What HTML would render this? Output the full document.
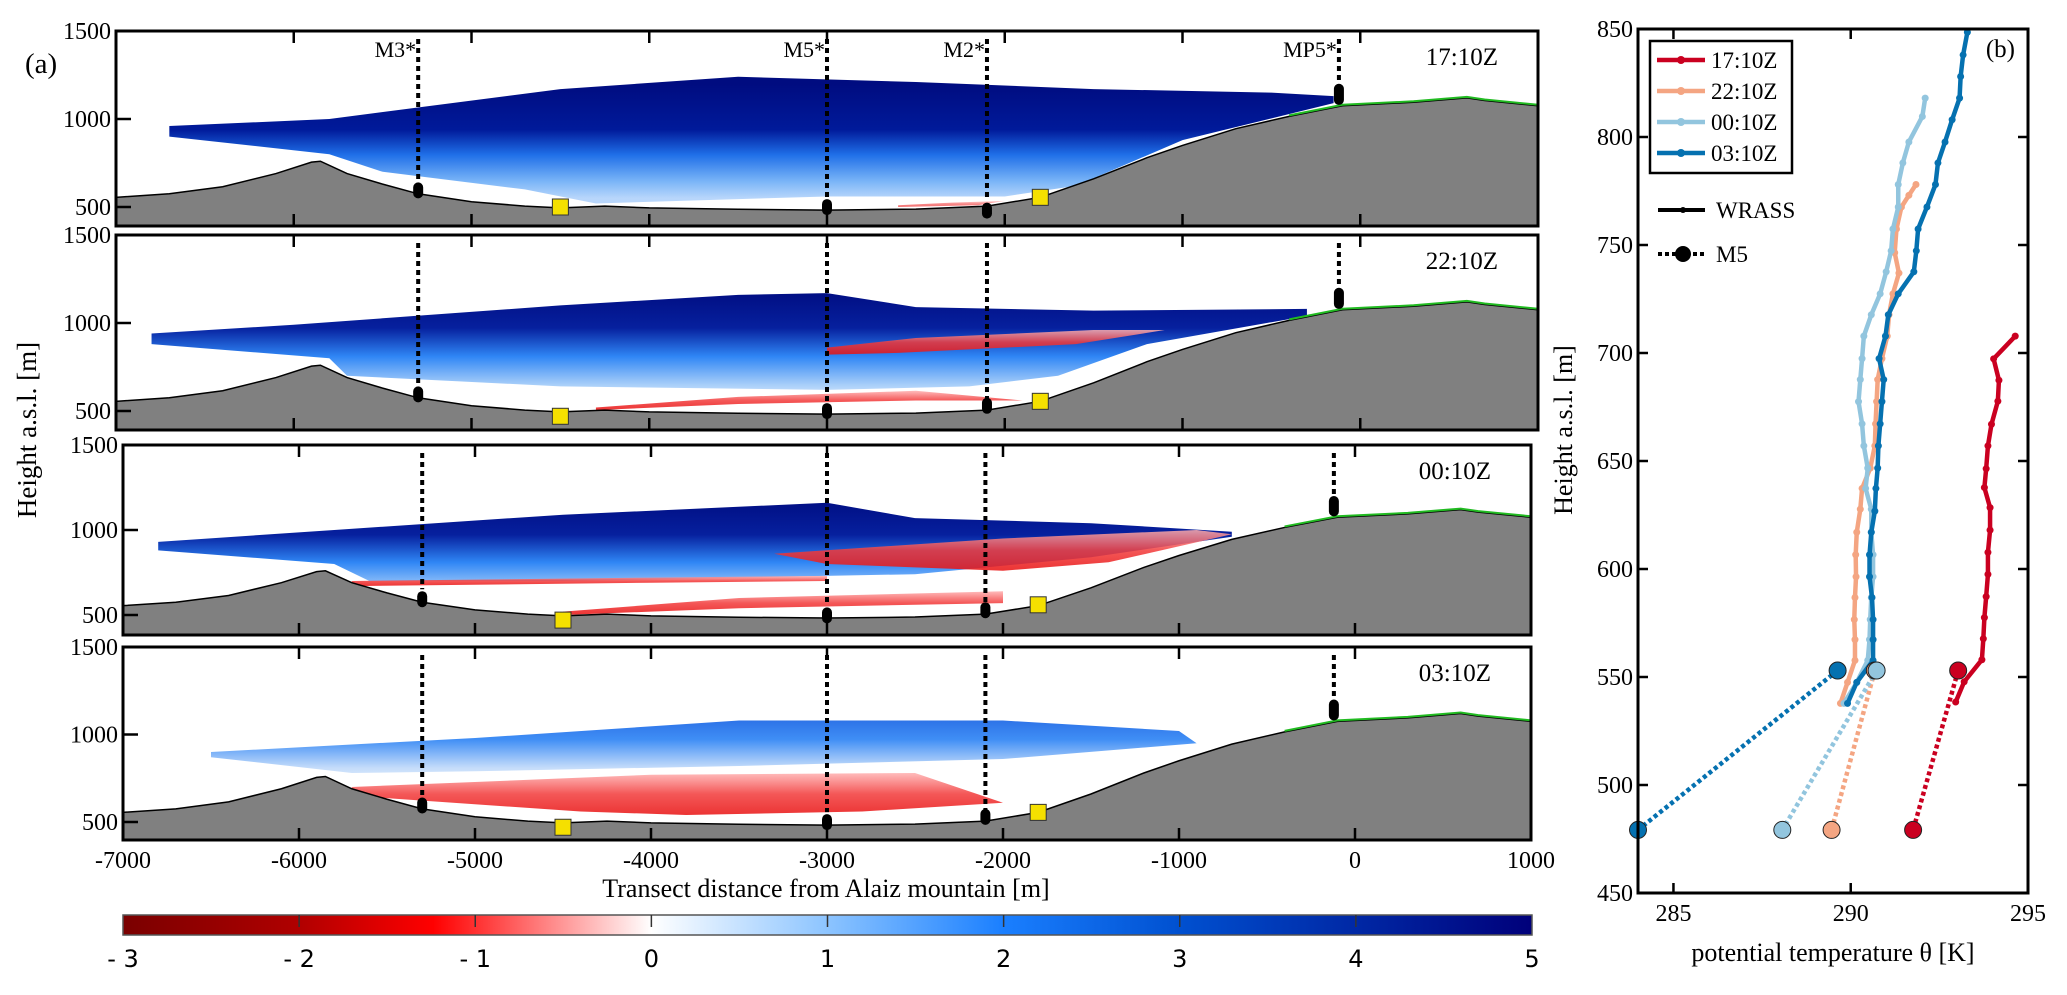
<!DOCTYPE html>
<html><head><meta charset="utf-8"><style>
html,body{margin:0;padding:0;background:#fff;}
svg{display:block;font-family:"Liberation Serif",serif;}
</style></head><body>
<svg id="fig" width="2067" height="995" viewBox="0 0 2067 995" xmlns="http://www.w3.org/2000/svg">
<defs>
  <linearGradient id="cbar" x1="0" x2="1" y1="0" y2="0">
    <stop offset="0" stop-color="#7a0000"/>
    <stop offset="0.125" stop-color="#b00000"/>
    <stop offset="0.22" stop-color="#ff0000"/>
    <stop offset="0.25" stop-color="#ff3030"/>
    <stop offset="0.375" stop-color="#ffffff"/>
    <stop offset="0.5" stop-color="#8cc4ff"/>
    <stop offset="0.625" stop-color="#1a7fff"/>
    <stop offset="0.75" stop-color="#0050d0"/>
    <stop offset="1" stop-color="#00007a"/>
  </linearGradient>
</defs>
<g id="left"></g>
<g id="right"></g>
</svg>
<script>
// ---------- data: left panels ----------
const panelTimes = ["17:10Z","22:10Z","00:10Z","03:10Z"];
const xTicks = [-7000,-6000,-5000,-4000,-3000,-2000,-1000,0,1000];
const yTicksLeft = [500,1000,1500];
const terrainX = [-7000,-6700,-6400,-6100,-5900,-5850,-5700,-5500,-5300,-5000,-4700,-4500,-4250,-4000,-3500,-3000,-2500,-2100,-1800,-1500,-1200,-1000,-700,-400,-100,300,600,700,1000];
const terrainH = [555,575,615,690,755,760,690,630,575,530,505,495,505,495,487,482,488,505,555,660,780,850,945,1015,1075,1095,1120,1105,1075];
const siteNames = ["M3*","M5*","M2*","MP5*"];
const siteX = [-5300,-3000,-2100,-120];
const siteLow = [[560,640],[470,545],[490,525],[1080,1200]];
const boxX = [-4500,-1800];
const boxH = [[500,540],[470,470],[470,470],[470,470]];
const boxH2 = [[555,555],[555,555],[560,560],[555,555]];
const cbTicks = [-3,-2,-1,0,1,2,3,4,5];
// radar field polygons per panel [x...],[h...]
const blueX = [
 [-6700,-5800,-4500,-3500,-2500,-1500,-500,-150,-150,-1000,-1600,-2000,-3000,-4300,-4700,-5500,-5800,-6700],
 [-6800,-6000,-4500,-3500,-3000,-2500,-1500,-300,-300,-1200,-1700,-2200,-3000,-4500,-5700,-5800,-6800],
 [-6800,-5800,-4500,-3000,-2500,-1500,-700,-700,-1500,-2500,-3500,-4500,-5600,-5800,-6800],
 [-6500,-5000,-3500,-2000,-1000,-900,-2000,-3500,-5000,-5700,-6500]];
const blueH = [
 [960,1000,1170,1240,1210,1170,1150,1130,1090,880,620,560,560,520,600,700,800,900],
 [940,990,1100,1160,1170,1090,1070,1080,1040,880,700,640,620,640,700,800,880],
 [930,1000,1090,1160,1070,1040,990,960,840,740,720,700,700,800,880],
 [900,980,1080,1080,1020,950,860,820,790,780,870]];
const redX = [
 [-2600,-2300,-2000,-2150,-2600],
 [-3000,-2500,-1500,-1100,-1600,-2600,-3000, null, -4300,-3500,-2500,-1900,-2500,-3500,-4300],
 [-3300,-2000,-900,-700,-1400,-2000,-3000, null, -4500,-3500,-2000,-2000,-3500,-4500, null, -5700,-4000,-3000,-3000,-4000,-5700],
 [-5700,-4000,-2500,-2000,-2800,-3800,-4400,-5700]];
const redH = [
 [510,525,535,510,500],
 [860,915,960,960,880,830,820, null, 520,580,615,560,560,540,505],
 [860,950,1000,975,810,760,800, null, 520,600,640,570,540,500, null, 700,720,730,700,690,670],
 [700,770,780,610,560,540,560,650]];

// ---------- data: right panel ----------
const seriesNames = ["17:10Z","22:10Z","00:10Z","03:10Z"];
const seriesColors = ["#ca0020","#f4a582","#92c5de","#0571b0"];
const wrassT = [
 [294.64,294.03,294.18,294.15,293.97,293.87,293.82,293.77,293.93,293.93,293.87,293.87,293.82,293.77,293.74,293.70,293.20,292.96],
 [291.84,291.64,291.43,291.29,291.24,291.36,291.19,291.08,291.03,290.88,290.76,290.73,290.70,290.68,290.55,290.32,290.27,290.17,290.14,290.15,290.12,290.10,290.12,290.12,289.91,289.71],
 [292.10,292.02,291.64,291.47,291.34,291.34,291.19,291.14,291.00,290.83,290.58,290.37,290.32,290.27,290.22,290.32,290.37,290.48,290.42,290.58,290.58,290.63,290.63,290.58,290.55,290.53,290.48,290.17,289.81],
 [293.29,293.17,293.10,293.07,292.86,292.66,292.46,292.39,292.15,291.90,291.85,291.78,291.34,291.06,290.98,290.80,290.93,290.88,290.83,290.78,290.76,290.71,290.68,290.58,290.53,290.53,290.60,290.63,290.63,290.63,290.17,289.91]];
const wrassH = [
 [707.8,697.3,687.4,677.7,667.0,657.0,646.4,637.7,628.4,618.0,607.7,597.5,587.2,577.5,567.7,558.0,547.8,538.4],
 [778,773,767.6,757.4,746.4,737,727.4,717.7,707.8,697.4,687.7,677.5,667.2,657,646.7,637.3,627.7,617,606.6,596.4,586.8,576.6,567.3,557.7,547.5,537.8],
 [818,809.5,797.7,788,778,767.6,757.4,747.3,737.6,727.4,717.7,707.8,697.4,687.7,677.5,667.2,657,646.7,637.3,627.7,617,606.6,596.4,586.8,576.6,567.3,557.7,547.5,537.8],
 [848.5,838,828,818,808,797.7,788,778,767.6,757.4,747.3,737.6,727.4,717.7,707.8,697.4,687.7,677.5,667.2,657,646.7,637.3,626.8,617,606.6,596.4,586.8,576.6,567.3,557.7,547.5,537.8]];
const m5T = [[293.03,291.76],[290.68,289.46],[290.73,288.07],[289.63,284.0]];
const m5H = [[553,479.2],[553,479.2],[553,479.2],[553,479.2]];
const rxTicks = [285,290,295];
const ryTicks = [450,500,550,600,650,700,750,800,850];

// ---------- drawing ----------
const NS="http://www.w3.org/2000/svg";
function mk(tag, attrs, parent, text){
  const e=document.createElementNS(NS,tag);
  for(const k in attrs) e.setAttribute(k,attrs[k]);
  if(text!==undefined) e.textContent=text;
  parent.appendChild(e); return e;
}
const L=document.getElementById('left');
const R=document.getElementById('right');
const frames=[{l:116,r:1538,y15:31,y5:207,bot:226},{l:116,r:1538,y15:235,y5:411,bot:430},{l:123,r:1531,y15:445,y5:615,bot:635},{l:123,r:1531,y15:647,y5:822,bot:840}];

frames.forEach((f,pi)=>{
  const top=f.y15;
  const sx=v=>f.l+(v+7000)/8000*(f.r-f.l);
  const sy=h=>f.y5-(h-500)/1000*(f.y5-f.y15);
  const g=mk('g',{},L);
  
  
  const clip=mk('clipPath',{id:'c'+pi},g);
  mk('rect',{x:f.l,y:top,width:f.r-f.l,height:f.bot-top},clip);
  const inner=mk('g',{'clip-path':'url(#c'+pi+')'},g);
  const gid='bg'+pi;
  const lg=mk('linearGradient',{id:gid,x1:0,x2:0,y1:sy(1200),y2:sy(550),gradientUnits:'userSpaceOnUse'},g);
  const stops = pi===0?[["0","#000c80"],["0.4","#001a9a"],["0.62","#1f6fe8"],["0.85","#79b4f7"],["1","#b8d6fb"]]:
                pi===3?[["0","#1a55d8"],["0.35","#3f8ef5"],["0.6","#c4dcfa"],["0.8","#f4f8ff"],["1","#ffffff"]]:
                [["0","#000c80"],["0.35","#06209e"],["0.6","#2f86f5"],["0.85","#a9cff9"],["1","#e8f1ff"]];
  stops.forEach(s=>mk('stop',{offset:s[0],'stop-color':s[1]},lg));
  const rid='rg'+pi;
  const rg=mk('linearGradient',{id:rid,x1:0,x2:0,y1:0,y2:1},g);
  [["0","#ffb0b0"],["0.5","#f23a3a"],["1","#e81010"]].forEach(s=>mk('stop',{offset:s[0],'stop-color':s[1]},rg));
  const bp=blueX[pi].map((x,i)=>sx(x)+','+sy(blueH[pi][i])).join(' ');
  const bf=mk('polygon',{points:bp,fill:'url(#'+gid+')'},inner);
  
  
  let seg=[];
  const flush=()=>{ if(seg.length){ const rf=mk('polygon',{points:seg.join(' '),fill:'url(#'+rid+')','fill-opacity':pi===0?0.6:0.85},inner);
    
     seg=[];} };
  redX[pi].forEach((x,i)=>{ if(x===null){flush();} else seg.push(sx(x)+','+sy(redH[pi][i])); });
  flush();
  let tp=terrainX.map((x,i)=>sx(x)+','+sy(terrainH[i])).join(' ');
  const ter=mk('polygon',{points:sx(-7000)+','+f.bot+' '+tp+' '+sx(1000)+','+f.bot,fill:'#808080',stroke:'#000','stroke-width':1.5},inner);
  
  
  const gp=terrainX.map((x,i)=>x>=-500?sx(x)+','+(sy(terrainH[i])-1):null).filter(Boolean).join(' ');
  mk('polyline',{points:gp,fill:'none',stroke:'#22bb22','stroke-width':2},inner);
  siteX.forEach((x,si)=>{
    const ln=mk('line',{x1:sx(x),x2:sx(x),y1:top+8,y2:sy(siteLow[si][1])-2,stroke:'#000','stroke-width':4,'stroke-dasharray':'5 4'},inner);
    
    
    const lo=siteLow[si][0]+(pi>0&&si===2?20:0), hi=siteLow[si][1]+(pi>0&&si===2?50:0);
    const mkE=mk('rect',{x:sx(x)-5,y:sy(hi),width:10,height:Math.max(16,sy(lo)-sy(hi)),rx:5,fill:'#000'},inner);
    
    
    if(pi===0){
      const t=mk('text',{x:sx(x)-2,y:top+26,'font-size':22,'text-anchor':'end'},g,siteNames[si]);
      
      
    }
  });
  boxX.forEach((x,bi)=>{
    const h=bi===0?boxH[pi][0]:boxH2[pi][0];
    const b=mk('rect',{x:sx(x)-8,y:sy(h)-8,width:16,height:16,fill:'#f5e000',stroke:'#333','stroke-width':1},inner);
    
    
  });
  mk('rect',{x:f.l,y:top,width:f.r-f.l,height:f.bot-top,fill:'none',stroke:'#000','stroke-width':3},g);
  xTicks.forEach(v=>{
    mk('line',{x1:sx(v),x2:sx(v),y1:top,y2:top+12,stroke:'#000','stroke-width':2.5},g);
    mk('line',{x1:sx(v),x2:sx(v),y1:f.bot,y2:f.bot-12,stroke:'#000','stroke-width':2.5},g);
    if(pi===3){
      const t=mk('text',{x:sx(v),y:f.bot+28,'font-size':24,'text-anchor':'middle'},g,String(v));
      
      
    }
  });
  yTicksLeft.forEach(v=>{
    mk('line',{x1:f.l,x2:f.l+15,y1:sy(v),y2:sy(v),stroke:'#000','stroke-width':2.5},g);
    const t=mk('text',{x:f.l-5,y:sy(v)+8,'font-size':24,'text-anchor':'end'},g,String(v));
    
    
  });
  const pt=mk('text',{x:f.r-40,y:top+34,'font-size':25,'text-anchor':'end'},g,panelTimes[pi]);
  
  
});
let t=mk('text',{x:25,y:73,'font-size':29},L,'(a)');
 
t=mk('text',{x:36,y:430,'font-size':27,'text-anchor':'middle',transform:'rotate(-90 36 430)'},L,'Height a.s.l. [m]');
 
t=mk('text',{x:826,y:897,'font-size':26,'text-anchor':'middle'},L,'Transect distance from Alaiz mountain [m]');
 
const cb=mk('g',{},L);
 
const cbx=v=>123+(v+3)/8*(1532-123);
mk('rect',{x:123,y:915,width:1409,height:20,fill:'url(#cbar)',stroke:'#555','stroke-width':1.5},cb);
cbTicks.forEach(v=>{
  if(v>-3&&v<5) mk('line',{x1:cbx(v),x2:cbx(v),y1:915,y2:927,stroke:'#333','stroke-width':1.5},cb);
  const tt=mk('text',{x:cbx(v),y:967,'font-size':24,'text-anchor':'middle','font-family':'DejaVu Sans, sans-serif'},cb,(v<0?'- '+(-v):String(v)));
   
});

const RL=1638,RR=2028,RT=29,RB=893;
const rx=v=>RL+(v-284)/11*(RR-RL);
const ry=h=>RB-(h-450)/400*(RB-RT);
for(let s=0;s<4;s++){
  const d=m5T[s].map((v,i)=>rx(v)+','+ry(m5H[s][i])).join(' ');
  const l=mk('polyline',{points:d,fill:'none',stroke:seriesColors[s],'stroke-width':4.5,'stroke-dasharray':'4 3'},R);
  
  
}
for(let s=0;s<4;s++){
  const d=wrassT[s].map((v,i)=>rx(v)+','+ry(wrassH[s][i])).join(' ');
  const l=mk('polyline',{points:d,fill:'none',stroke:seriesColors[s],'stroke-width':4.5,'stroke-linejoin':'round'},R);
  
  
  wrassT[s].forEach((v,i)=>{
    const c=mk('circle',{cx:rx(v),cy:ry(wrassH[s][i]),r:3.5,fill:seriesColors[s]},R);
    
    
  });
}
for(let s=0;s<4;s++){
  m5T[s].forEach((v,i)=>{
    const c=mk('circle',{cx:rx(v),cy:ry(m5H[s][i]),r:8.5,fill:seriesColors[s],stroke:'#222','stroke-width':1}, R);
    
    
  });
}
mk('rect',{x:RL,y:RT,width:RR-RL,height:RB-RT,fill:'none',stroke:'#000','stroke-width':3},R);
rxTicks.forEach(v=>{
  mk('line',{x1:rx(v),x2:rx(v),y1:RB,y2:RB-10,stroke:'#000','stroke-width':2.5},R);
  mk('line',{x1:rx(v),x2:rx(v),y1:RT,y2:RT+10,stroke:'#000','stroke-width':2.5},R);
  const tt=mk('text',{x:rx(v),y:RB+28,'font-size':24,'text-anchor':'middle'},R,String(v));
   
});
ryTicks.forEach(v=>{
  mk('line',{x1:RL,x2:RL+10,y1:ry(v),y2:ry(v),stroke:'#000','stroke-width':2.5},R);
  mk('line',{x1:RR,x2:RR-10,y1:ry(v),y2:ry(v),stroke:'#000','stroke-width':2.5},R);
  const tt=mk('text',{x:RL-5,y:ry(v)+8,'font-size':24,'text-anchor':'end'},R,String(v));
   
});
t=mk('text',{x:1572,y:430,'font-size':26,'text-anchor':'middle',transform:'rotate(-90 1572 430)'},R,'Height a.s.l. [m]');
 
t=mk('text',{x:1833,y:961,'font-size':26,'text-anchor':'middle'},R,'potential temperature θ [K]');
 
t=mk('text',{x:2015,y:57,'font-size':25,'text-anchor':'end'},R,'(b)');
 
const lg=mk('g',{},R);
 
mk('rect',{x:1650,y:41,width:142,height:132,fill:'#fff',stroke:'#000','stroke-width':2.5},lg);
seriesNames.forEach((n,i)=>{
  const y=60+i*31;
  const e=mk('g',{},lg);
   
  mk('line',{x1:1657,x2:1705,y1:y,y2:y,stroke:seriesColors[i],'stroke-width':4.5},e);
  mk('circle',{cx:1681,cy:y,r:4,fill:seriesColors[i]},e);
  mk('text',{x:1711,y:y+8,'font-size':23},e,n);
});
const e1=mk('g',{},R);
 
mk('line',{x1:1658,x2:1705,y1:210,y2:210,stroke:'#000','stroke-width':4},e1);
mk('circle',{cx:1683,cy:210,r:3,fill:'#000'},e1);
mk('text',{x:1716,y:218,'font-size':23},e1,'WRASS');
const e2=mk('g',{},R);
 
mk('line',{x1:1658,x2:1705,y1:254,y2:254,stroke:'#000','stroke-width':4,'stroke-dasharray':'4 3'},e2);
mk('circle',{cx:1683,cy:254,r:8,fill:'#000'},e2);
mk('text',{x:1716,y:262,'font-size':23},e2,'M5');
</script>
</body></html>
